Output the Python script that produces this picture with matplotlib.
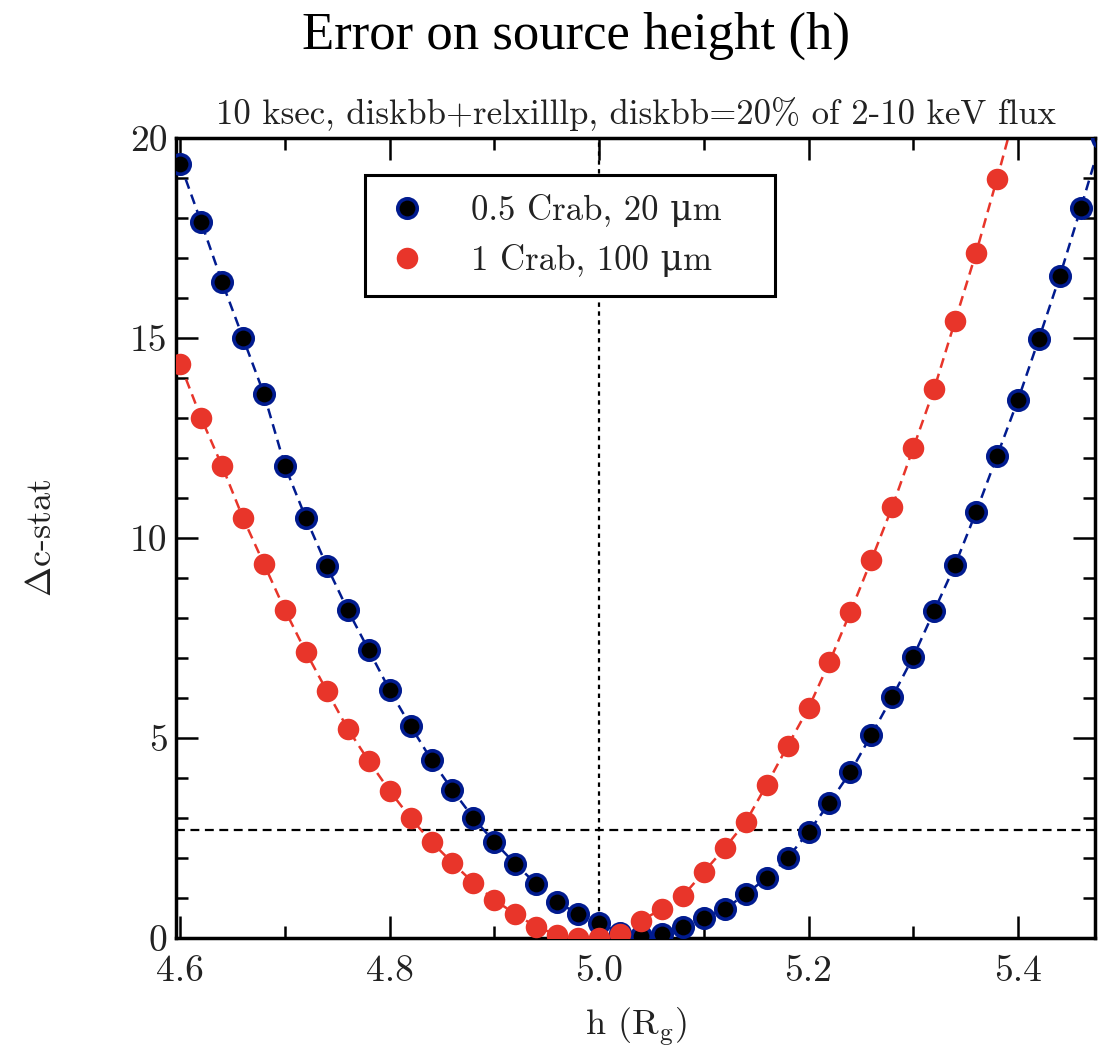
import matplotlib
matplotlib.use('Agg')
import matplotlib.pyplot as plt
from matplotlib.ticker import MultipleLocator, FormatStrFormatter

plt.rcParams['font.family'] = ['cmr10', 'DejaVu Serif']
plt.rcParams['mathtext.fontset'] = 'cm'
plt.rcParams['axes.unicode_minus'] = False
plt.rcParams['axes.formatter.use_mathtext'] = True

# source height grid (R_g)
h_blue = [4.60, 4.62, 4.64, 4.66, 4.68, 4.70, 4.72, 4.74, 4.76, 4.78,
          4.80, 4.82, 4.84, 4.86, 4.88, 4.90, 4.92, 4.94, 4.96, 4.98,
          5.00, 5.02, 5.04, 5.06, 5.08, 5.10, 5.12, 5.14, 5.16, 5.18,
          5.20, 5.22, 5.24, 5.26, 5.28, 5.30, 5.32, 5.34, 5.36, 5.38,
          5.40, 5.42, 5.44, 5.46, 5.48]
c_blue = [19.35, 17.9, 16.4, 15.0, 13.6, 11.8, 10.5, 9.3, 8.2, 7.2,
          6.2, 5.3, 4.45, 3.7, 3.0, 2.4, 1.85, 1.35, 0.9, 0.6,
          0.38, 0.12, 0.05, 0.1, 0.28, 0.5, 0.72, 1.1, 1.5, 2.0,
          2.65, 3.38, 4.15, 5.08, 6.03, 7.03, 8.18, 9.33, 10.65, 12.05,
          13.45, 14.98, 16.55, 18.25, 20.0]

h_red = [4.60, 4.62, 4.64, 4.66, 4.68, 4.70, 4.72, 4.74, 4.76, 4.78,
         4.80, 4.82, 4.84, 4.86, 4.88, 4.90, 4.92, 4.94, 4.96, 4.98,
         5.00, 5.02, 5.04, 5.06, 5.08, 5.10, 5.12, 5.14, 5.16, 5.18,
         5.20, 5.22, 5.24, 5.26, 5.28, 5.30, 5.32, 5.34, 5.36, 5.38,
         5.40]
c_red = [14.35, 13.0, 11.8, 10.5, 9.35, 8.2, 7.15, 6.18, 5.23, 4.43,
         3.68, 3.0, 2.4, 1.88, 1.38, 0.95, 0.6, 0.28, 0.08, 0.0,
         0.0, 0.1, 0.43, 0.73, 1.05, 1.65, 2.25, 2.9, 3.83, 4.8,
         5.75, 6.9, 8.15, 9.45, 10.78, 12.25, 13.73, 15.43, 17.13, 18.98,
         20.9]

blue = '#011b8f'
red = '#e8352a'
txt = '#222222'

fig = plt.figure(figsize=(11.02, 10.47), dpi=100)
ax = fig.add_axes([0.1597, 0.1041, 0.8339, 0.7641])

ax.axvline(5.0, color='black', ls=(0, (2, 2)), lw=1.6, zorder=1)
ax.axhline(2.706, color='black', ls=(0, (4, 2.5)), lw=1.6, zorder=1)

ax.plot(h_blue, c_blue, ls='--', color=blue, lw=1.8, dashes=(4, 2.5), zorder=2)
ax.plot(h_red, c_red, ls='--', color=red, lw=1.8, dashes=(4, 2.5), zorder=2)
ax.plot(h_blue, c_blue, ls='none', marker='o', ms=14, mfc='black', mec=blue,
        mew=2.6, zorder=3, label='0.5 Crab, 20 μm')
ax.plot(h_red, c_red, ls='none', marker='o', ms=15.5, mfc=red, mec=red,
        mew=0, zorder=3, label='1 Crab, 100 μm')

ax.set_xlim(4.596, 5.4735)
ax.set_ylim(0, 20)

ax.xaxis.set_major_locator(MultipleLocator(0.2))
ax.xaxis.set_minor_locator(MultipleLocator(0.1))
ax.yaxis.set_major_locator(MultipleLocator(5))
ax.yaxis.set_minor_locator(MultipleLocator(1))
ax.xaxis.set_major_formatter(FormatStrFormatter('%.1f'))
ax.yaxis.set_major_formatter(FormatStrFormatter('%d'))

ax.tick_params(which='both', direction='in', top=True, right=True,
               labelsize=27, width=1.8, labelcolor=txt)
ax.tick_params(axis='x', pad=12)
ax.tick_params(axis='y', pad=6)
ax.tick_params(which='major', length=16)
ax.tick_params(which='minor', length=8.5)
for s in ax.spines.values():
    s.set_linewidth(2.5)

ax.set_xlabel(r'h (R$_{\rm g}$)', fontsize=26, labelpad=13, color=txt)
ax.set_ylabel(r'$\Delta$c-stat', fontsize=26, labelpad=52, color=txt)
ax.set_title('10 ksec, diskbb+relxilllp, diskbb=20% of 2-10 keV flux',
             fontsize=25, pad=10, color=txt)
fig.text(0.523, 0.966, 'Error on source height (h)', ha='center', va='center',
         fontsize=38, family='Liberation Serif')

leg = ax.legend(loc='upper left', bbox_to_anchor=(0.206, 0.80, 0.446, 0.154),
                mode='expand', borderaxespad=0,
                fontsize=25, frameon=True, fancybox=False, framealpha=1,
                handletextpad=1.2, borderpad=0.55, labelspacing=0.5,
                handlelength=1.3, numpoints=1)
leg.get_frame().set_edgecolor('black')
leg.get_frame().set_linewidth(2.2)
for t in leg.get_texts():
    t.set_color(txt)

fig.savefig('out.png', dpi=100)
